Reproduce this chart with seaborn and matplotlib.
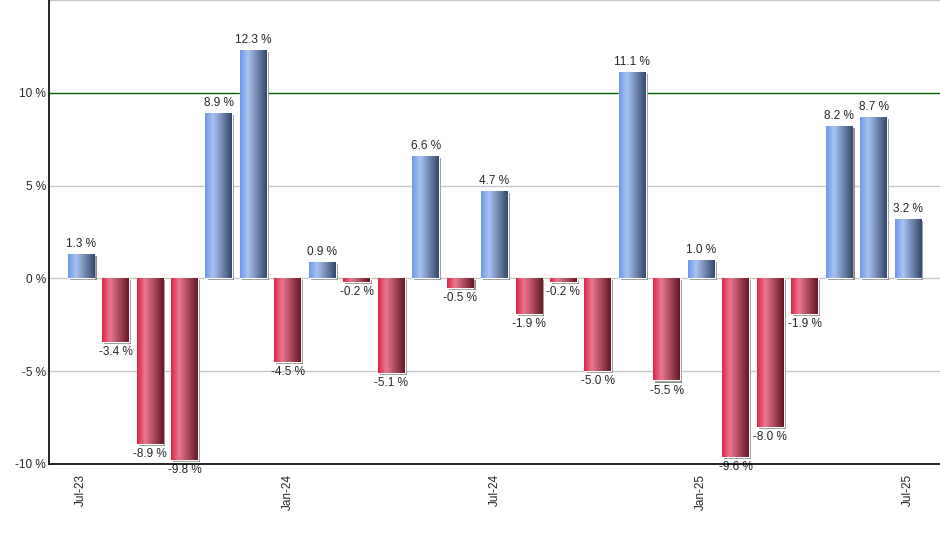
import numpy as np
import pandas as pd
import matplotlib
matplotlib.use("Agg")
import matplotlib.pyplot as plt
import matplotlib.patheffects as pe
from matplotlib.colors import LinearSegmentedColormap
import seaborn as sns

# monthly returns
months = ["Jul-23", "Aug-23", "Sep-23", "Oct-23", "Nov-23", "Dec-23",
          "Jan-24", "Feb-24", "Mar-24", "Apr-24", "May-24", "Jun-24",
          "Jul-24", "Aug-24", "Sep-24", "Oct-24", "Nov-24", "Dec-24",
          "Jan-25", "Feb-25", "Mar-25", "Apr-25", "May-25", "Jun-25", "Jul-25"]
returns = [1.3, -3.4, -8.9, -9.8, 8.9, 12.3,
           -4.5, 0.9, -0.2, -5.1, 6.6, -0.5,
           4.7, -1.9, -0.2, -5.0, 11.1, -5.5,
           1.0, -9.6, -8.0, -1.9, 8.2, 8.7, 3.2]
shown_ticks = ["Jul-23", "Jan-24", "Jul-24", "Jan-25", "Jul-25"]
y_ticks = [-10, -5, 0, 5, 10, 15]

df = pd.DataFrame({"month": months, "ret": returns})
df["sign"] = np.where(df.ret >= 0, "pos", "neg")

sns.set_style("white")
plt.rcParams["font.family"] = ["Liberation Sans", "DejaVu Sans"]

# horizontal gradients: mid colour -> light -> dark
blue_cmap = LinearSegmentedColormap.from_list(
    "b", [(0, "#6d98e8"), (0.3, "#a9c4f1"), (1, "#33476b")])
red_cmap = LinearSegmentedColormap.from_list(
    "r", [(0, "#dc2449"), (0.3, "#e9788e"), (1, "#651726")])

fig = plt.figure(figsize=(9.4, 5.5), dpi=100)
ax = fig.add_axes([49 / 940, 86 / 550, 891 / 940, 464 / 550])

sns.barplot(data=df, x="month", y="ret", hue="sign",
            palette={"pos": "#7f9fd8", "neg": "#b03050"},
            dodge=False, legend=False, width=0.78, ax=ax,
            order=months, zorder=3)

xl = (-0.93, len(months) - 1 + 0.93)
yl = (-10, 15)

grad = np.linspace(0, 1, 256).reshape(1, -1)
for bar in ax.patches:
    x0, y0 = bar.get_x(), bar.get_y()
    w, h = bar.get_width(), bar.get_height()
    if np.isnan(h):
        continue
    bar.set_path_effects([pe.SimplePatchShadow(offset=(1.5, -1.5),
                                               shadow_rgbFace="#808080",
                                               alpha=0.9),
                          pe.Normal()])
    cmap = blue_cmap if (y0 + h) > 0 or (y0 > 0) else red_cmap
    img = ax.imshow(grad, cmap=cmap, aspect="auto",
                    extent=[x0, x0 + w, min(y0, y0 + h), max(y0, y0 + h)],
                    zorder=4)
    img.set_clip_path(bar)

for c in ax.containers:
    ax.bar_label(c, fmt="{:.1f} %", padding=3, fontsize=8.5, zorder=5)

ax.set_xlim(*xl)
ax.set_ylim(*yl)

# gridlines
for t in y_ticks:
    ax.axhline(t, color="#006400" if t == 10 else "#c8c8c8",
               lw=1, zorder=1)

ax.set_yticks(y_ticks[:-1])
ax.set_yticklabels([f"{t} %" for t in y_ticks[:-1]], fontsize=8.5)
pos = [months.index(m) for m in shown_ticks]
ax.set_xticks(pos)
ax.set_xticklabels(shown_ticks, rotation=90, fontsize=8.5)
ax.tick_params(axis="x", length=4, width=1, color="black", pad=3)
ax.tick_params(axis="y", length=0, pad=2)
ax.set_xlabel("")
ax.set_ylabel("")

for s in ["top", "right"]:
    ax.spines[s].set_visible(False)
for s in ["left", "bottom"]:
    ax.spines[s].set_color("black")
    ax.spines[s].set_linewidth(1.2)
    ax.spines[s].set_zorder(6)

fig.savefig("out.png", dpi=100)
